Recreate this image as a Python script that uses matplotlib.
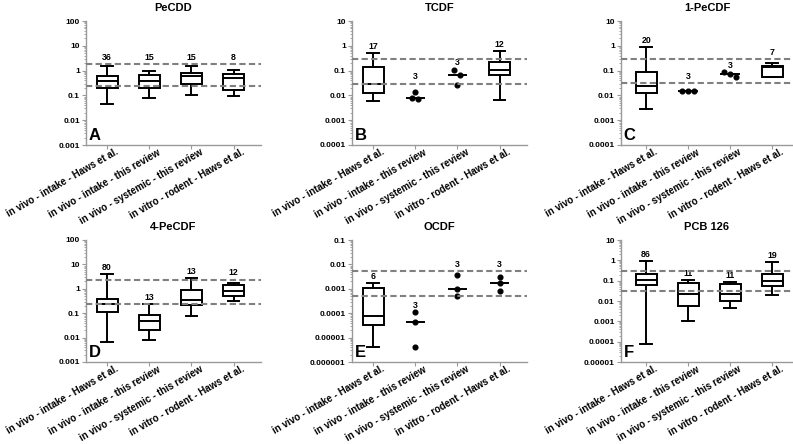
import numpy as np
import matplotlib
matplotlib.use("Agg")
import matplotlib.pyplot as plt
from matplotlib.ticker import LogLocator, FuncFormatter, NullFormatter
from matplotlib.transforms import ScaledTranslation

plt.rcParams['font.family'] = ['Liberation Sans', 'DejaVu Sans']
plt.rcParams['font.weight'] = 'bold'

groups = ["in vivo - intake - Haws et al.",
          "in vivo - intake - this review",
          "in vivo - systemic - this review",
          "in vitro - rodent - Haws et al."]

titles = ["PeCDD", "TCDF", "1-PeCDF", "4-PeCDF", "OCDF", "PCB 126"]
letters = ["A", "B", "C", "D", "E", "F"]
y_ranges = [(0.001, 100), (0.0001, 10), (0.0001, 10),
            (0.001, 100), (0.000001, 0.1), (0.00001, 10)]
ref_lines = [(0.23, 1.9), (0.03, 0.3), (0.032, 0.3),
             (0.24, 2.4), (0.00052, 0.0052), (0.03, 0.3)]
counts = [[36, 15, 15, 8], [17, 3, 3, 12], [20, 3, 3, 7],
          [80, 13, 13, 12], [6, 3, 3, 3], [86, 11, 11, 19]]

# box groups: [whisker low, Q1, median, Q3, whisker high]; n == 3 groups: the points
pecdd = [[0.043, 0.19, 0.38, 0.59, 1.5],
         [0.078, 0.20, 0.39, 0.69, 0.97],
         [0.10, 0.29, 0.59, 0.80, 1.5],
         [0.094, 0.165, 0.52, 0.76, 1.1]]
tcdf = [[0.0057, 0.0124, 0.029, 0.146, 0.49],
        [0.0137, 0.0073, 0.0075],
        [0.11, 0.065, 0.026],
        [0.0067, 0.069, 0.11, 0.225, 0.63]]
pecdf1 = [[0.0028, 0.0128, 0.023, 0.09, 0.91],
          [0.015, 0.015, 0.015],
          [0.089, 0.057, 0.073],
          [0.057, 0.057, 0.14, 0.155, 0.2]]
pecdf4 = [[0.0068, 0.112, 0.245, 0.39, 4.2],
          [0.0083, 0.021, 0.046, 0.085, 0.23],
          [0.08, 0.21, 0.34, 0.9, 2.7],
          [0.32, 0.53, 0.8, 1.45, 1.65]]
ocdf = [[0.0000042, 0.000034, 0.000078, 0.00103, 0.0017],
        [0.000115, 0.000042, 0.0000042],
        [0.0037, 0.001, 0.0005],
        [0.0031, 0.0017, 0.0008]]
pcb126 = [[0.000075, 0.063, 0.11, 0.21, 0.91],
          [0.001, 0.0056, 0.021, 0.077, 0.107],
          [0.0043, 0.0105, 0.021, 0.066, 0.087],
          [0.019, 0.052, 0.095, 0.21, 0.81]]
panels = [pecdd, tcdf, pecdf1, pecdf4, ocdf, pcb126]

W, H = 793, 444
col_left = [86, 352, 621]
col_width = [175, 175, 172]
col_xlim = [(0.5, 4.65), (0.5, 4.65), (0.4, 4.5)]
row_top = [21, 240]
row_height = [124, 122]
step_px = 42.0
axis_grey = '#9a9a9a'


def swarm_offsets(vals, px_dec, gap=6.0):
    # spread points that would overlap, highest value to the left
    logs = np.log10(vals)
    order = np.argsort(logs)[::-1]
    offs = np.zeros(len(vals))
    clusters, cur = [], [order[0]]
    for a, b in zip(order[:-1], order[1:]):
        if (logs[a] - logs[b]) * px_dec < gap:
            cur.append(b)
        else:
            clusters.append(cur)
            cur = [b]
    clusters.append(cur)
    for cl in clusters:
        k = len(cl)
        for m, idx in enumerate(cl):
            offs[idx] = (m - (k - 1) / 2) * gap / step_px
    return offs


def decade_label(v, pos):
    e = int(round(np.log10(v)))
    return f"{10.0 ** e:.{max(0, -e)}f}"


fig = plt.figure(figsize=(7.93, 4.44), dpi=100)
label_shift = ScaledTranslation(8 / 100, -2 / 100, fig.dpi_scale_trans)

for i in range(6):
    r, c = divmod(i, 3)
    ax = fig.add_axes([col_left[c] / W, 1 - (row_top[r] + row_height[r]) / H,
                       col_width[c] / W, row_height[r] / H])
    ax.set_yscale('log')
    ylo, yhi = y_ranges[i]
    ax.set_ylim(ylo, yhi)
    ax.set_xlim(*col_xlim[c])
    px_dec = row_height[r] / np.log10(yhi / ylo)

    for j, vals in enumerate(panels[i]):
        x = j + 1
        if counts[i][j] == len(vals):
            offs = swarm_offsets(vals, px_dec)
            ax.plot(x + offs, vals, 'o', color='black', ms=3.4, zorder=4)
            ax.hlines(np.median(vals), x - 0.23, x + 0.23, color='black', lw=1.4, zorder=4)
            top = max(vals)
        else:
            lo, q1, med, q3, hi = vals
            st = dict(whislo=lo, q1=q1, med=med, q3=q3, whishi=hi, fliers=[])
            ax.bxp([st], positions=[x], widths=0.5, capwidths=0.28, showfliers=False,
                   patch_artist=True, manage_ticks=False,
                   boxprops=dict(facecolor='white', edgecolor='black', lw=1.4),
                   medianprops=dict(color='black', lw=1.4),
                   whiskerprops=dict(color='black', lw=1.4),
                   capprops=dict(color='black', lw=1.4))
            top = hi
        base = top
        for d in ref_lines[i]:
            if top < d < top * 2.5:
                base = d
        ax.annotate(str(counts[i][j]), (x, base), xytext=(0, 1.5), textcoords='offset points',
                    ha='center', va='bottom', fontsize=6.3, fontweight='bold')

    for d in ref_lines[i]:
        ax.axhline(d, color='#808080', lw=1.5, ls=(0, (3, 1.6)), zorder=5)

    ax.yaxis.set_major_locator(LogLocator(base=10, numticks=20))
    ax.yaxis.set_minor_locator(LogLocator(base=10, subs=np.arange(2, 10), numticks=20))
    ax.yaxis.set_minor_formatter(NullFormatter())
    ax.yaxis.set_major_formatter(FuncFormatter(decade_label))

    # category labels drawn as rotated texts hanging from each tick
    ax.set_xticks([1, 2, 3, 4])
    ax.set_xticklabels([])
    for j, g in enumerate(groups):
        ax.text(j + 1, 0, g, transform=ax.get_xaxis_transform() + label_shift,
                rotation=30, ha='right', va='top', rotation_mode='anchor',
                fontsize=7.0, fontweight='bold', clip_on=False)

    ax.tick_params(axis='y', labelsize=6.0, pad=1.5)
    ax.tick_params(which='major', color=axis_grey, width=0.8, length=3)
    ax.tick_params(which='minor', color=axis_grey, width=0.6, length=1.5)

    for s in ['top', 'right']:
        ax.spines[s].set_visible(False)
    for s in ['left', 'bottom']:
        ax.spines[s].set_color(axis_grey)
        ax.spines[s].set_linewidth(1.0)

    ax.set_title(titles[i], fontsize=8, fontweight='bold', pad=7)
    ax.text(0.015, 0.02, letters[i], transform=ax.transAxes, fontsize=12,
            fontweight='bold', ha='left', va='bottom')

fig.savefig('out.png', dpi=100)
